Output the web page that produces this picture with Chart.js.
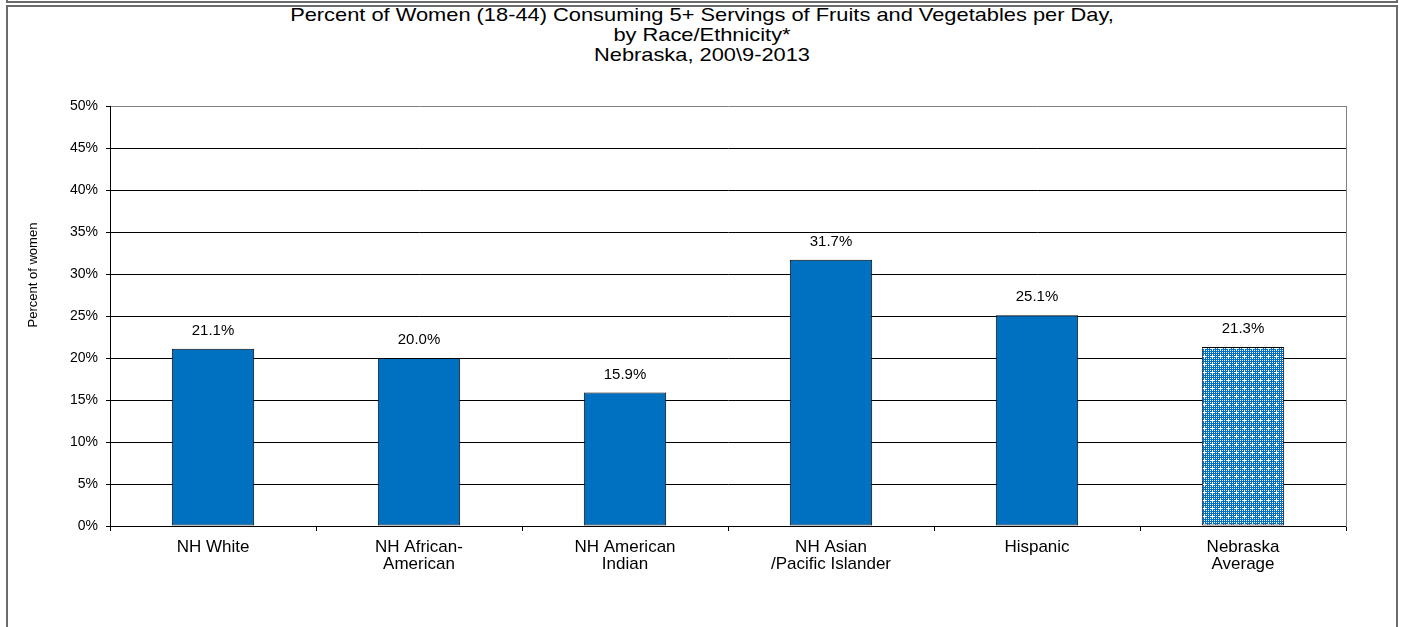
<!DOCTYPE html>
<html>
<head>
<meta charset="utf-8">
<title>Percent of Women Consuming 5+ Servings of Fruits and Vegetables</title>
<script src="https://cdn.jsdelivr.net/npm/chart.js"></script>
<style>
  html, body { margin: 0; padding: 0; background: #fff; overflow: hidden; }
  body { width: 1404px; height: 627px; position: relative; font-family: "Liberation Sans", Arial, sans-serif; }
  .prevBox { position: absolute; left: 6px; top: -20px; width: 1388px; height: 19px; border: 2px solid #6b6b6b; }
  .box { position: absolute; left: 6px; top: 5px; width: 1388px; height: 700px; border: 2px solid #6b6b6b; }
  #title {
    position: absolute; left: 0; top: 5px; width: 1404px;
    text-align: center; font-size: 18.5px; line-height: 20px; color: #000;
    transform: scaleX(1.18); transform-origin: 702px 0;
  }
  #chart { position: absolute; left: 0; top: 0; }
</style>
</head>
<body>
<div class="prevBox"></div>
<div class="box"></div>
<div id="title">Percent of Women (18-44) Consuming 5+ Servings of Fruits and Vegetables per Day,<br>by Race/Ethnicity*<br>Nebraska, 200\9-2013</div>
<canvas id="chart" width="1404" height="627"></canvas>
<script>
// Data
const categories = [
  ["NH White"],
  ["NH African-", "American"],
  ["NH American", "Indian"],
  ["NH Asian", "/Pacific Islander"],
  ["Hispanic"],
  ["Nebraska", "Average"],
];
const values = [21.1, 20.0, 15.9, 31.7, 25.1, 21.3];
const yTicks = [0, 5, 10, 15, 20, 25, 30, 35, 40, 45, 50];
const yAxisTitle = "Percent of women";

const FONT = '"Liberation Sans", Arial, sans-serif';
const BLUE = "#0070C0";

// Dotted pattern for the state average bar
function makePattern() {
  const c = document.createElement("canvas");
  c.width = 8;
  c.height = 8;
  const g = c.getContext("2d");
  g.fillStyle = BLUE;
  g.fillRect(0, 0, 8, 8);
  g.fillStyle = "#ffffff";
  for (let y = 0; y < 8; y += 2) {
    for (let x = 0; x < 8; x += 2) {
      g.fillRect(x, y, 1, 1);
    }
  }
  // little white plus marks
  [[3, 4], [5, 4], [4, 3], [4, 5], [4, 4]].forEach(([x, y]) => g.fillRect(x, y, 1, 1));
  return g.createPattern(c, "repeat");
}
const pattern = makePattern();
const barColors = values.map((_, i) => (i === values.length - 1 ? pattern : BLUE));

// Value labels above the bars
const valueLabels = {
  id: "valueLabels",
  afterDatasetsDraw(chart) {
    const ctx = chart.ctx;
    const meta = chart.getDatasetMeta(0);
    ctx.save();
    ctx.font = "15px " + FONT;
    ctx.fillStyle = "#000";
    ctx.textAlign = "center";
    ctx.textBaseline = "middle";
    meta.data.forEach((bar, i) => {
      ctx.fillText(values[i].toFixed(1) + "%", bar.x, bar.y - 18);
    });
    ctx.restore();
  },
};

// Gray frame on the right side of the plot area, and the y axis title
const plotFrame = {
  id: "plotFrame",
  afterDraw(chart) {
    const { ctx, chartArea } = chart;
    ctx.save();
    ctx.strokeStyle = "#808080";
    ctx.lineWidth = 1;
    ctx.beginPath();
    ctx.moveTo(Math.round(chartArea.right) + 0.5, chartArea.top);
    ctx.lineTo(Math.round(chartArea.right) + 0.5, chartArea.bottom + 1);
    ctx.stroke();

    ctx.translate(33, 275);
    ctx.rotate(-Math.PI / 2);
    ctx.font = "13px " + FONT;
    ctx.fillStyle = "#000";
    ctx.textAlign = "center";
    ctx.textBaseline = "middle";
    ctx.fillText(yAxisTitle, 0, 0);
    ctx.restore();
  },
};

new Chart(document.getElementById("chart"), {
  type: "bar",
  data: {
    labels: categories,
    datasets: [
      {
        data: values,
        backgroundColor: barColors,
        borderColor: "#000",
        borderWidth: 1,
        borderSkipped: false,
        categoryPercentage: 1.0,
        barPercentage: 0.4,
      },
    ],
  },
  options: {
    responsive: false,
    animation: false,
    devicePixelRatio: 1,
    layout: { padding: { left: 0, right: 58, top: 106, bottom: 0 } },
    plugins: {
      legend: { display: false },
      tooltip: { enabled: false },
      title: { display: false },
    },
    scales: {
      x: {
        afterFit(scale) { scale.height = 101; },
        grid: {
          offset: true,
          drawOnChartArea: false,
          drawTicks: true,
          tickLength: 5,
          color: "#000",
        },
        border: { color: "#000", width: 1 },
        ticks: {
          color: "#000",
          font: { family: FONT, size: 17, lineHeight: 1.0 },
          padding: 8,
          maxRotation: 0,
          autoSkip: false,
        },
      },
      y: {
        min: 0,
        max: 50,
        afterFit(scale) { scale.width = 110; },
        afterBuildTicks(scale) { scale.ticks = yTicks.map((v) => ({ value: v })); },
        grid: {
          color: (c) => (c.tick && c.tick.value === 50 ? "#808080" : "#000"),
          tickColor: "#000",
          tickLength: 4,
          lineWidth: 1,
        },
        border: { color: "#000", width: 1 },
        ticks: {
          color: "#000",
          font: { family: FONT, size: 14 },
          padding: 8,
          callback: (v) => v + "%",
        },
      },
    },
  },
  plugins: [valueLabels, plotFrame],
});
</script>
</body>
</html>
